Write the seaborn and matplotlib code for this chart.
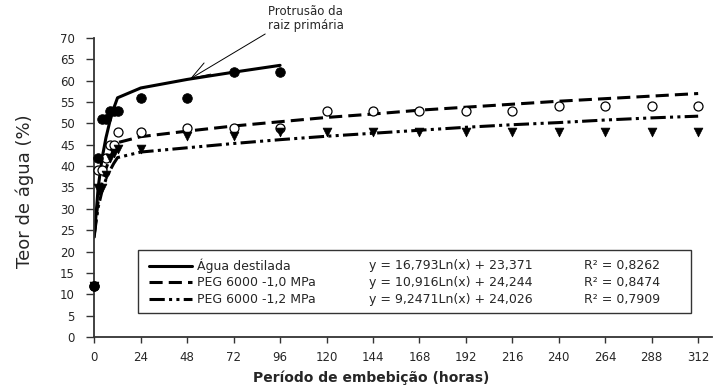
import matplotlib
matplotlib.use("Agg")
import matplotlib.pyplot as plt
import seaborn as sns
import pandas as pd
from matplotlib.lines import Line2D
from matplotlib.patches import Rectangle

# dados
horas_agua = [0, 2, 4, 6, 8, 10, 12, 24, 48, 72, 96]
agua = [12, 42, 51, 51, 53, 53, 53, 56, 56, 62, 62]
tend_agua = [23.4, 35.0, 41.8, 46.6, 50.4, 53.5, 56.0, 58.3, 60.3, 62.0, 63.6]

horas_peg = [0, 2, 4, 6, 8, 10, 12, 24, 48, 72, 96, 120, 144, 168, 192, 216, 240, 264, 288, 312]
peg10 = [12, 39, 39, 42, 45, 45, 48, 48, 49, 49, 49, 53, 53, 53, 53, 53, 54, 54, 54, 54]
tend_peg10 = [24.2, 31.8, 36.2, 39.4, 41.8, 43.8, 45.5, 46.9, 48.2, 49.4, 50.4, 51.4, 52.2, 53.1,
              53.8, 54.5, 55.2, 55.8, 56.4, 57.0]
peg12 = [12, 35, 35, 38, 42, 43, 44, 44, 47, 47, 48, 48, 48, 48, 48, 48, 48, 48, 48, 48]
tend_peg12 = [24.0, 30.4, 34.2, 36.9, 38.9, 40.6, 42.0, 43.3, 44.3, 45.3, 46.2, 47.0, 47.7, 48.4,
              49.1, 49.7, 50.2, 50.8, 51.3, 51.7]

nomes = ["Água destilada", "PEG 6000 -1,0 MPa", "PEG 6000 -1,2 MPa"]
equacoes = ["y = 16,793Ln(x) + 23,371", "y = 10,916Ln(x) + 24,244", "y = 9,2471Ln(x) + 24,026"]
r2 = ["R² = 0,8262", "R² = 0,8474", "R² = 0,7909"]
xticks = list(range(0, 313, 24))
yticks = list(range(0, 71, 5))

df_agua = pd.DataFrame({"h": horas_agua, "v": agua, "t": tend_agua})
df_peg = pd.DataFrame({"h": horas_peg, "v10": peg10, "t10": tend_peg10, "v12": peg12, "t12": tend_peg12})

sns.set_theme(style="ticks")
plt.rcParams["font.family"] = ["DejaVu Sans"]

fig = plt.figure(figsize=(7.22, 3.9), dpi=100)
ax = fig.add_axes([94.3 / 722, 1 - 337 / 390, 617.4 / 722, 299 / 390])

lw = 2.2
estilo10 = (0, (4.3, 2.0))
estilo12 = (0, (5.0, 1.4, 1.0, 1.4, 1.0, 1.4))

sns.lineplot(data=df_agua, x="h", y="t", ax=ax, color="black", lw=lw, linestyle="-")
sns.lineplot(data=df_peg, x="h", y="t10", ax=ax, color="black", lw=lw, linestyle=estilo10)
sns.lineplot(data=df_peg, x="h", y="t12", ax=ax, color="black", lw=lw, linestyle=estilo12)

sns.scatterplot(data=df_agua, x="h", y="v", ax=ax, marker="o", s=48, color="black",
                edgecolor="black", clip_on=False, zorder=5)
sns.scatterplot(data=df_peg, x="h", y="v10", ax=ax, marker="o", s=42, facecolor="white",
                edgecolor="black", linewidth=0.9, clip_on=False, zorder=4)
sns.scatterplot(data=df_peg, x="h", y="v12", ax=ax, marker="v", s=40, color="black",
                edgecolor="black", clip_on=False, zorder=4)

ax.set_xlim(0, 319)
ax.set_ylim(0, 70)
ax.set_xticks(xticks)
ax.set_yticks(yticks)
ax.tick_params(axis="both", labelsize=8.5, length=4, width=1, color="#333333", pad=6)
ax.tick_params(axis="y", length=6, pad=8)
for s in ["top", "right"]:
    ax.spines[s].set_visible(False)
for s in ["left", "bottom"]:
    ax.spines[s].set_color("#333333")
    ax.spines[s].set_linewidth(1.3)

ax.set_xlabel("Período de embebição (horas)", fontsize=10, fontweight="bold")
ax.xaxis.set_label_coords(0.448, -0.112)
ax.set_ylabel("Teor de água (%)", fontsize=13)
ax.yaxis.set_label_coords(-0.112, 0.488)
ax.yaxis.label.set_verticalalignment("center")

# legenda desenhada como no original
ax.add_patch(Rectangle((0.0708, 0.0803), 0.8957, 0.2107, transform=ax.transAxes,
                       facecolor="white", edgecolor="#333333", lw=1.0, zorder=6))
linhas_y = [0.2375, 0.183, 0.127]
estilos = ["-", estilo10, estilo12]
for i in range(3):
    ax.add_line(Line2D([0.0891, 0.1578], [linhas_y[i], linhas_y[i]], transform=ax.transAxes,
                       color="black", lw=lw, linestyle=estilos[i], zorder=7))
    ax.text(0.1663, linhas_y[i], nomes[i], transform=ax.transAxes, fontsize=9,
            va="center", ha="left", zorder=7)
    ax.text(0.4443, linhas_y[i], equacoes[i], transform=ax.transAxes, fontsize=9,
            va="center", ha="left", zorder=7)
    ax.text(0.7932, linhas_y[i], r2[i], transform=ax.transAxes, fontsize=9,
            va="center", ha="left", zorder=7)

ax.annotate("Protrusão da\nraiz primária", xy=(49.4, 60.4), xytext=(90, 71.4),
            fontsize=8.5, ha="left", va="bottom", linespacing=1.1, annotation_clip=False,
            arrowprops=dict(arrowstyle="->,head_length=1.6,head_width=0.55", color="black",
                            lw=0.7, shrinkA=0, shrinkB=0, relpos=(0, 0)))

fig.savefig("out.png", dpi=100)
